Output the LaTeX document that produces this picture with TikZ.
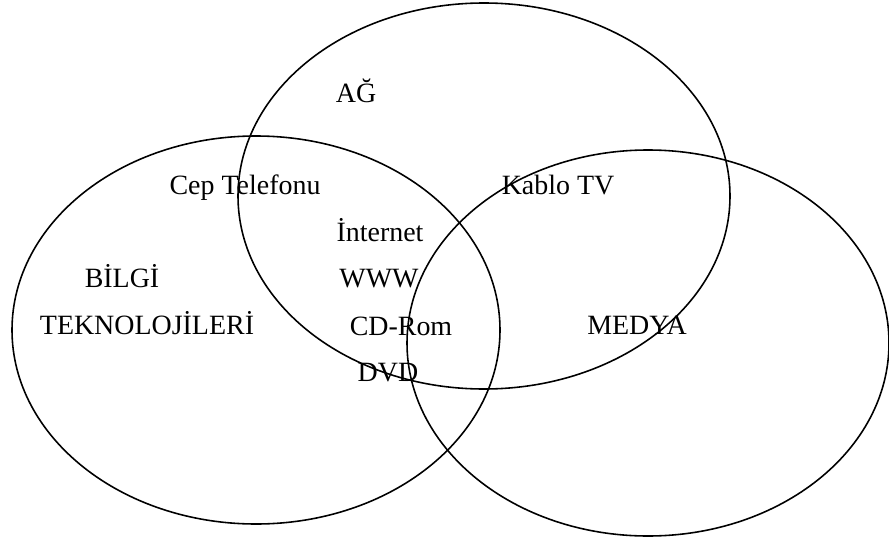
\documentclass[tikz,border=0pt]{standalone}
\usepackage{fontspec}
\setmainfont{Liberation Serif}
\usepackage{tikz}
\usetikzlibrary{positioning}

\begin{document}
\begin{tikzpicture}[x=0.02cm, y=-0.02cm,
  lbl/.style={font=\fontsize{15.9}{19}\selectfont, inner sep=0pt, text height=1.4ex, text depth=0pt}]
\useasboundingbox (0,0) rectangle (889,541);

% Sets
\draw[line width=0.9pt] (256,330) ellipse [x radius=244, y radius=194];
\draw[line width=0.9pt] (484,196) ellipse [x radius=246, y radius=193];
\draw[line width=0.9pt] (648,343) ellipse [x radius=241, y radius=193];

% Set names
\node[lbl] (ag) at (356,97) {AĞ};
\node[lbl] (bilgi) at (122,282) {BİLGİ};
\node[lbl] (tekno) at (147,329) {TEKNOLOJİLERİ};
\node[lbl] (medya) at (637,329) {MEDYA};

% Members
\node[lbl] (cep) at (245,189) {Cep Telefonu};
\node[lbl] (kablo) at (558,189) {Kablo TV};
\node[lbl] (internet) at (380,236) {İnternet};
\node[lbl] (www) at (379,282) {WWW};
\node[lbl] (cdrom) at (401,330) {CD-Rom};
\node[lbl] (dvd) at (388,376) {DVD};
\end{tikzpicture}
\end{document}
